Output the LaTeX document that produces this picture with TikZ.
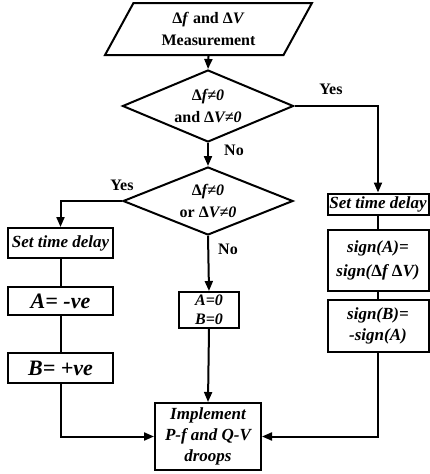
\documentclass[tikz,border=0pt]{standalone}
\usepackage{fontspec}
\setmainfont{Liberation Serif}
\usetikzlibrary{shapes.geometric,arrows.meta}
\begin{document}
\begin{tikzpicture}[x=1pt,y=-1pt,
  every node/.style={font=\bfseries\fontsize{16}{22}\selectfont, inner sep=0pt, align=center},
  box/.style={draw, line width=2pt, rectangle, font=\bfseries\itshape\fontsize{17}{21}\selectfont},
  dia/.style={draw, line width=2pt, diamond},
  lbl/.style={font=\bfseries\fontsize{16}{18}\selectfont},
  arr/.style={line width=2pt, -{Triangle[length=10pt,width=8pt]}},
  ln/.style={line width=2pt}]
\useasboundingbox (0,0) rectangle (429,474);
\node[draw, line width=2pt, trapezium, trapezium left angle=62, trapezium right angle=118,
  trapezium stretches=true, minimum width=207pt, minimum height=52pt] (meas) at (208.5,29)
  {\fontsize{16}{21}\selectfont Δ\textit{f} and Δ\textit{V}\\Measurement};
\node[dia, minimum width=171pt, minimum height=72pt,
  label={[align=center, font=\bfseries\fontsize{16}{22}\selectfont]center:Δ\textit{f≠0}\\and Δ\textit{V≠0}}] (d1) at (208,106) {};
\node[dia, minimum width=170pt, minimum height=68pt,
  label={[align=center, font=\bfseries\fontsize{16}{22}\selectfont]center:Δ\textit{f≠0}\\or Δ\textit{V≠0}}] (d2) at (208,201) {};
\node[box, minimum width=105pt, minimum height=30pt] (ltd) at (60.5,243) {Set time delay};
\node[box, minimum width=105pt, minimum height=28pt, font=\bfseries\itshape\fontsize{22}{24}\selectfont] (la) at (60.5,301) {A= -ve};
\node[box, minimum width=105pt, minimum height=30pt, font=\bfseries\itshape\fontsize{22}{24}\selectfont] (lb) at (60.5,368) {B= +ve};
\node[box, minimum width=60pt, minimum height=36pt, font=\bfseries\itshape\fontsize{16}{19}\selectfont] (ab0) at (209,310) {A=0\\B=0};
\node[box, minimum width=106pt, minimum height=67pt] (impl) at (208,436.5) {Implement\\P-f and Q-V\\droops};
\node[box, minimum width=101pt, minimum height=21pt] (rtd) at (378,204) {Set time delay};
\node[box, minimum width=101pt, minimum height=61pt, font=\bfseries\itshape\fontsize{17}{24}\selectfont] (rsa) at (378,260) {sign(A)=\\sign({\upshape Δ}f {\upshape Δ}V)};
\node[box, minimum width=101pt, minimum height=52pt] (rsb) at (378,326) {sign(B)=\\-sign(A)};
\draw[arr] (meas.south) -- (d1.north);
\draw[arr] (d1.south) -- (d2.north);
\draw[arr] (d1.east) -| (rtd.north);
\draw[arr] (d2.west) -| (ltd.north);
\draw[arr] (d2.south) -- (ab0.north);
\draw[ln] (ltd.south) -- (la.north);
\draw[ln] (la.south) -- (lb.north);
\draw[ln] (rtd.south) -- (rsa.north);
\draw[ln] (rsa.south) -- (rsb.north);
\draw[arr] (lb.south) |- (impl.west);
\draw[arr] (rsb.south) |- (impl.east);
\draw[arr] (ab0.south) -- (impl.north);
\node[lbl] (y1) at (331,89) {Yes};
\node[lbl] (n1) at (234,150) {No};
\node[lbl] (y2) at (122,185) {Yes};
\node[lbl] (n2) at (228,249) {No};
\end{tikzpicture}
\end{document}
